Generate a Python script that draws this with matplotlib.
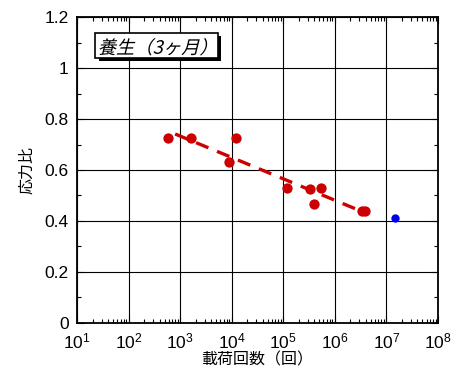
import numpy as np
import matplotlib
matplotlib.use("Agg")
import matplotlib.pyplot as plt
import matplotlib.transforms as mtransforms
import matplotlib.patheffects as pe
from matplotlib.textpath import TextPath
from matplotlib.patches import PathPatch, Rectangle
from matplotlib.font_manager import FontProperties
from matplotlib.ticker import LogLocator, MultipleLocator, NullFormatter

plt.rcParams['font.family'] = ['Liberation Sans', 'Noto Sans CJK JP', 'DejaVu Sans']

# data
cycles_red = [580, 1600, 8800, 12000, 120000, 330000, 400000, 550000, 3300000, 3900000]
ratio_red = [0.725, 0.725, 0.63, 0.725, 0.53, 0.525, 0.465, 0.528, 0.44, 0.44]
cycles_blue = [1.45e7]
ratio_blue = [0.41]
fit_range = [800, 4.4e6]
label_text = "養生（3ヶ月）"

RED = '#cc0000'

fig = plt.figure(figsize=(4.67, 3.69), dpi=100)
ax = fig.add_axes([0.1649, 0.1247, 0.773, 0.8292])

# regression line through the red points (stress ratio vs log N)
b, a = np.polyfit(np.log10(cycles_red), ratio_red, 1)
xf = np.logspace(np.log10(fit_range[0]), np.log10(fit_range[1]), 50)
ax.plot(xf, a + b * np.log10(xf), color=RED, lw=2.4, dashes=(4, 2.8), zorder=3)

ax.scatter(cycles_red, ratio_red, s=55, color=RED, zorder=4, linewidths=0)
ax.scatter(cycles_blue, ratio_blue, s=36, color='#0000ee', zorder=4, linewidths=0)

ax.set_xscale('log')
ax.set_xlim(10, 1e8)
ax.set_ylim(0, 1.2)
ax.xaxis.set_major_locator(LogLocator(base=10, numticks=10))
ax.xaxis.set_minor_locator(LogLocator(base=10, subs=np.arange(2, 10), numticks=20))
ax.xaxis.set_minor_formatter(NullFormatter())
ax.yaxis.set_minor_locator(MultipleLocator(0.1))
ax.set_yticks([0, 0.2, 0.4, 0.6, 0.8, 1.0, 1.2])
ax.set_yticklabels(['0', '0.2', '0.4', '0.6', '0.8', '1', '1.2'])

ax.grid(True, which='major', color='black', lw=0.8)
ax.tick_params(which='both', direction='in', top=True, right=True, labelsize=12.5, width=0.8)
ax.tick_params(which='major', length=5, pad=6)
ax.tick_params(which='minor', length=3)
for s in ax.spines.values():
    s.set_linewidth(1.3)

ax.set_xlabel("載荷回数（回）", fontsize=11.5, family=['Noto Sans CJK JP'], labelpad=0)
ax.set_ylabel("応力比", fontsize=11.5, family=['Noto Sans CJK JP'], labelpad=7)

# boxed label with shadow, italic by skewing the text outline
box = Rectangle((0.05, 0.866), 0.34, 0.082, transform=ax.transAxes, facecolor='white',
                edgecolor='black', lw=1.2, zorder=5,
                path_effects=[pe.SimplePatchShadow(offset=(2.5, -2.5), shadow_rgbFace='black', alpha=1),
                              pe.Normal()])
ax.add_patch(box)
tp = TextPath((0, 0), label_text, size=13.2, prop=FontProperties(family='Noto Sans CJK JP'))
tr = (mtransforms.Affine2D().skew_deg(14, 0).scale(fig.dpi / 72.0)
      + mtransforms.ScaledTranslation(0.057, 0.880, ax.transAxes))
ax.add_patch(PathPatch(tp, transform=tr, facecolor='black', edgecolor='none', zorder=6))

fig.savefig("out.png", dpi=100)
